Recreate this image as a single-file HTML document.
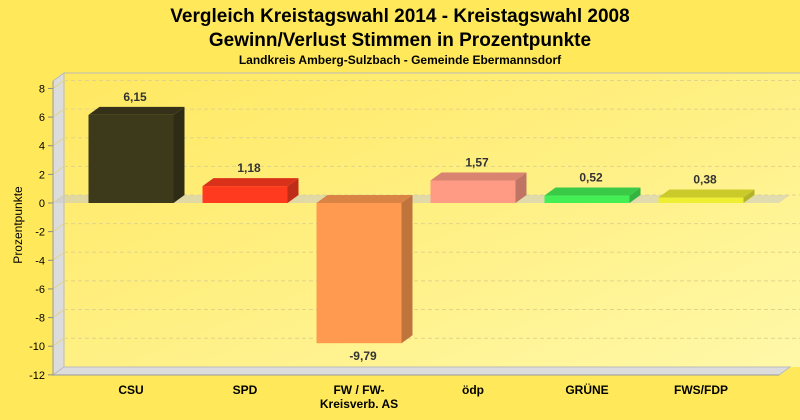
<!DOCTYPE html>
<html><head><meta charset="utf-8"><style>
body{margin:0;background:#ffe95a;}
svg{display:block;font-family:"Liberation Sans",sans-serif;}
</style></head><body>
<svg width="800" height="420" viewBox="0 0 800 420">
<defs>
<linearGradient id="bg" x1="0" y1="0" x2="1" y2="1"><stop offset="0" stop-color="#ffe860"/><stop offset="1" stop-color="#fff8a8"/></linearGradient>
</defs>
<text x="400" y="22" text-anchor="middle" font-size="19" font-weight="bold">Vergleich Kreistagswahl 2014 - Kreistagswahl 2008</text>
<text x="400" y="46" text-anchor="middle" font-size="19" font-weight="bold">Gewinn/Verlust Stimmen in Prozentpunkte</text>
<text x="400" y="64" text-anchor="middle" font-size="12" font-weight="bold">Landkreis Amberg-Sulzbach - Gemeinde Ebermannsdorf</text>
<polygon points="64,73 800,73 800,367 64,367" fill="url(#bg)"/>
<line x1="64" y1="73" x2="800" y2="73" stroke="#bbb"/>
<polygon points="53,81 64,73 64,367 53,375" fill="#dcdcdc" stroke="#bbb"/>
<polygon points="53,375 64,367 790,367 779,375" fill="#dcdcdc" stroke="#bbb"/>
<g id="grid"></g>
<g id="bars"></g>
<g id="axis"></g>
<text transform="translate(22,225) rotate(-90)" text-anchor="middle" font-size="12">Prozentpunkte</text>
<script>
const categories=["CSU","SPD","FW / FW-|Kreisverb. AS","ödp","GRÜNE","FWS/FDP"];
const values=[6.15,1.18,-9.79,1.57,0.52,0.38];
const labels=["6,15","1,18","-9,79","1,57","0,52","0,38"];
const colors=["#3d3a1c","#ff3a1f","#ff9a50","#ff9a85","#44ee55","#eeee33"];
const ticks=[8,6,4,2,0,-2,-4,-6,-8,-10,-12];
const NS="http://www.w3.org/2000/svg";
const y=v=>203-14.32*v;
const xc=i=>131+114*i;
const DX=11,DY=-8,W=85;
function mk(t,a,p){const e=document.createElementNS(NS,t);for(const k in a)e.setAttribute(k,a[k]);p.appendChild(e);return e;}
function shade(c,f){const n=parseInt(c.slice(1),16);let r=n>>16,g=(n>>8)&255,b=n&255;return `rgb(${Math.round(r*f)},${Math.round(g*f)},${Math.round(b*f)})`;}
const grid=document.getElementById('grid'),axis=document.getElementById('axis'),bars=document.getElementById('bars');
ticks.forEach(t=>{
 const yy=y(t);
 if(t!==-12){const g=mk('line',{x1:64,y1:yy+DY,x2:800,y2:yy+DY,stroke:'#e0d48a','stroke-dasharray':'4,3'},grid);
 
 
 mk('line',{x1:53,y1:yy,x2:64,y2:yy+DY,stroke:'#e0d48a'},grid);}
 const tk=mk('line',{x1:48,y1:yy,x2:53,y2:yy,stroke:'#888'},axis);
 
 
 const tl=mk('text',{x:45,y:yy+4,'text-anchor':'end','font-size':11},axis);
 tl.textContent=String(t);
 
 
});
mk('line',{x1:53,y1:81,x2:53,y2:375,stroke:'#999'},axis);
mk('line',{x1:53,y1:375,x2:779,y2:375,stroke:'#999'},axis);
// zero plane
const zp=mk('polygon',{points:`53,${y(0)} 64,${y(0)+DY} 790,${y(0)+DY} 779,${y(0)}`,fill:'rgba(200,200,200,0.55)'},grid);


values.forEach((v,i)=>{
 const x0=xc(i)-W/2,x1=x0+W,yt=Math.min(y(v),y(0)),yb=Math.max(y(v),y(0)),c=colors[i];
 const g=mk('g',{},bars);
 
 
 mk('polygon',{points:`${x1},${yt} ${x1+DX},${yt+DY} ${x1+DX},${yb+DY} ${x1},${yb}`,fill:shade(c,0.75)},g);
 mk('polygon',{points:`${x0},${yt} ${x0+DX},${yt+DY} ${x1+DX},${yt+DY} ${x1},${yt}`,fill:shade(c,0.85)},g);
 mk('rect',{x:x0,y:yt,width:W,height:yb-yt,fill:c},g);
 const lt=mk('text',{x:xc(i)+4,y:v>=0?y(v)-14:y(v)+17,'text-anchor':'middle','font-size':12,'font-weight':'bold',fill:'#333'},bars);
 lt.textContent=labels[i];
 
 
 const parts=categories[i].split('|');
 parts.forEach((p,j)=>{
  const ct=mk('text',{x:xc(i),y:394+j*14,'text-anchor':'middle','font-size':12,'font-weight':'bold'},axis);
  ct.textContent=p;
  
  
 });
});
</script>
</svg>
</body></html>
